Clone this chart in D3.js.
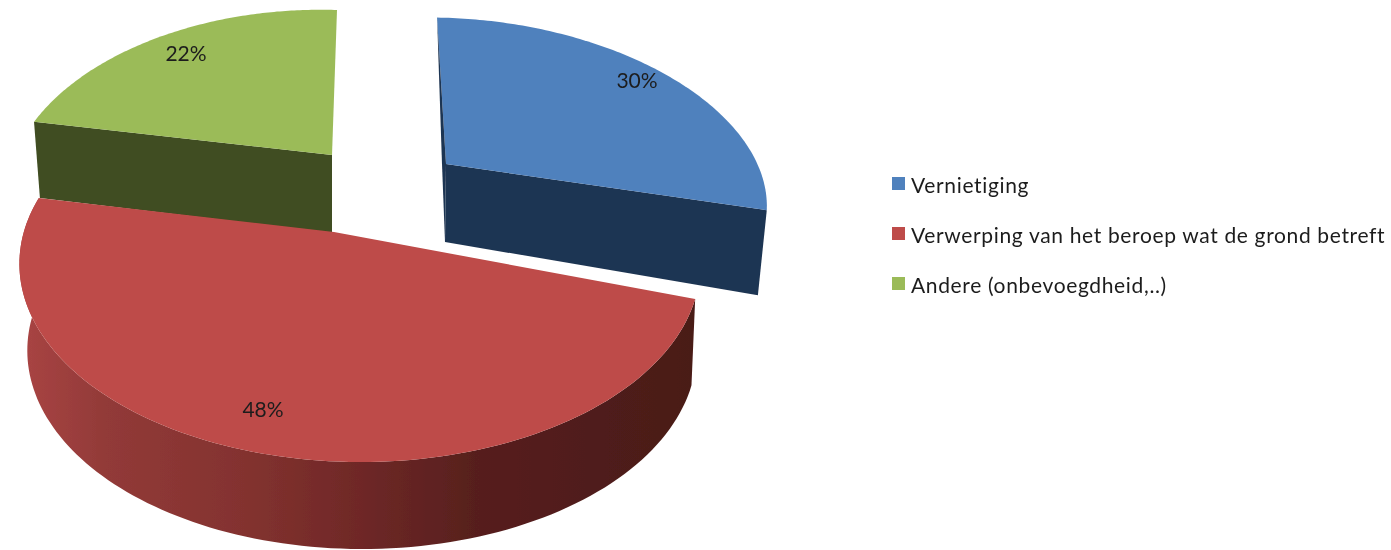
<!DOCTYPE html>
<html>
<head>
<meta charset="utf-8">
<script src="https://cdn.jsdelivr.net/npm/d3@7"></script>
<style>
    body { margin: 0; background: #fff; }
    text { font-family: Lato, "Noto Sans", sans-serif; fill: #1c1c1c; }
</style>
</head>
<body>
<svg id="chart"></svg>
<script>
    // Data
    const categories = ["Vernietiging", "Verwerping van het beroep wat de grond betreft", "Andere (onbevoegdheid,..)"];
    const shares = [30, 48, 22];

    const dimensions = { width: 1391, height: 550 };
    const colors = ["#4f81bd", "#be4b48", "#9bbb59"];
    const wallColors = ["#1f3552", "url(#redWall)", "#3f4d20"];

    // Every slice has its own perspective because they are pulled apart:
    // apex on screen, plane matrix (A B C D), perspective (a k), angle factor (turn),
    // wall height (dep, depY), wall lean (dx0, sh), label position (lx, ly)
    const views = [
        { ax: 446, ay: 164, A: 296, B: 10, C: 14, D: 164, a: 0.066, k: 0.12, turn: 100 / 108, dep: 78, depY: 40, dx0: -1, sh: 8, lx: 637, ly: 81 },
        { ax: 334, ay: 232, A: 334, B: 0, C: -2, D: 192, a: 0.075, k: 0.163, turn: 1.004, dep: 86, depY: 1, dx0: 2, sh: 6, lx: 263, ly: 410 },
        { ax: 332, ay: 155, A: 295, B: -6, C: -0.5, D: 174, a: -0.07, k: 0.2, turn: 1, dep: 78, depY: 10, dx0: 0, sh: 6, lx: 186, ly: 54 },
    ];

    const svg = d3.select("#chart")
        .attr("width", dimensions.width)
        .attr("height", dimensions.height)
        .style("display", "block");

    const defs = svg.append("defs");
    defs.append("filter").attr("id", "soft")
        .append("feGaussianBlur").attr("stdDeviation", 0.45);

    const grad = defs.append("linearGradient").attr("id", "redWall")
        .attr("gradientUnits", "userSpaceOnUse")
        .attr("x1", 25).attr("x2", 693).attr("y1", 0).attr("y2", 0);
    [[0, "#a84443"], [0.12, "#923a38"], [0.33, "#83322f"], [0.5, "#6f2827"], [0.68, "#561f1d"], [1, "#4a1a18"]]
        .forEach(s => grad.append("stop").attr("offset", s[0]).attr("stop-color", s[1]));

    const pie = d3.pie().sort(null);
    const arcs = pie(shares);
    const line = d3.line();

    // Point on the top face: angle clockwise from 12 o'clock, r from 0 to 1
    function topPoint(v, angle, r) {
        const x = r * Math.sin(angle * v.turn), y = -r * Math.cos(angle * v.turn);
        const w = 1 - v.a * x - v.k * y;
        return [v.ax + (v.A * x + v.B * y) / w, v.ay + (v.C * x + v.D * y) / w];
    }

    // Same point at the bottom of the wall
    function bottomPoint(v, angle, r) {
        const x = r * Math.sin(angle * v.turn), y = -r * Math.cos(angle * v.turn);
        const p = topPoint(v, angle, r);
        return [p[0] + v.dx0 - v.sh * x, p[1] + v.dep + v.depY * y];
    }

    function arcAngles(a0, a1) {
        return d3.range(0, 121).map(i => a0 + (a1 - a0) * i / 120);
    }

    function topFace(v, d) {
        return line([topPoint(v, 0, 0)].concat(arcAngles(d.startAngle, d.endAngle).map(t => topPoint(v, t, 1)))) + "Z";
    }

    function radialWall(v, angle) {
        return line([topPoint(v, 0, 0), topPoint(v, angle, 1), bottomPoint(v, angle, 1), bottomPoint(v, 0, 0)]) + "Z";
    }

    function outerWall(v, a0, a1) {
        const ts = arcAngles(a0, a1);
        return line(ts.map(t => topPoint(v, t, 1)).concat(ts.slice().reverse().map(t => bottomPoint(v, t, 1)))) + "Z";
    }

    const chart = svg.append("g").attr("filter", "url(#soft)");

    // Green, then blue, then red on top
    chart.append("path").attr("d", radialWall(views[2], arcs[2].startAngle)).attr("fill", wallColors[2]);
    chart.append("path").attr("d", topFace(views[2], arcs[2])).attr("fill", colors[2]);

    chart.append("path").attr("d", radialWall(views[0], arcs[0].endAngle)).attr("fill", wallColors[0]);
    chart.append("path").attr("d", topFace(views[0], arcs[0])).attr("fill", colors[0]);
    // thin dark edge of the blue slice on its left
    const blueTop = topPoint(views[0], 0, 1), blueApex = topPoint(views[0], 0, 0), blueFoot = bottomPoint(views[0], 0, 0);
    chart.append("path")
        .attr("d", line([blueTop, blueApex, blueFoot, [blueApex[0] - 4, blueApex[1]]]) + "Z")
        .attr("fill", wallColors[0]);

    chart.append("path").attr("d", outerWall(views[1], arcs[1].startAngle, arcs[1].endAngle)).attr("fill", wallColors[1]);
    chart.append("path").attr("d", topFace(views[1], arcs[1])).attr("fill", colors[1]);

    // Percent labels
    svg.append("g").selectAll("text")
        .data(arcs)
        .enter()
        .append("text")
        .attr("x", (d, i) => views[i].lx)
        .attr("y", (d, i) => views[i].ly)
        .attr("dy", "0.35em")
        .attr("text-anchor", "middle")
        .style("font-size", "21px")
        .style("filter", "url(#soft)")
        .text(d => d.data + "%");

    // Legend
    const legendY = [184, 234, 284];
    const legend = svg.append("g").attr("filter", "url(#soft)");
    categories.forEach((category, i) => {
        legend.append("rect")
            .attr("x", 892)
            .attr("y", legendY[i] - 7)
            .attr("width", 13)
            .attr("height", 13)
            .style("fill", colors[i]);

        legend.append("text")
            .attr("x", 911)
            .attr("y", legendY[i] + 9)
            .style("font-size", "21px")
            .style("letter-spacing", "0.65px")
            .text(category);
    });
</script>
</body>
</html>
